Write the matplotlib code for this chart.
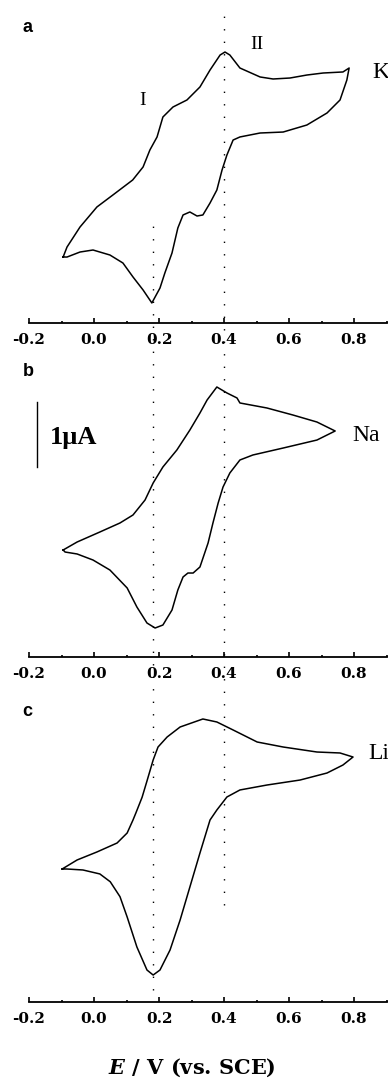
import matplotlib
matplotlib.use("Agg")
import matplotlib.pyplot as plt
from matplotlib.ticker import MultipleLocator, FixedLocator

plt.rcParams['mathtext.fontset'] = 'dejavuserif'

# ---------------- data (E in V vs. SCE, current in µA, arbitrary offset) -------------
# Panel a : K+
E_K = [-0.095, -0.083, -0.043, 0.009, 0.058, 0.119, 0.151, 0.172, 0.194, 0.212, 0.243,
       0.286, 0.326, 0.357, 0.388, 0.403, 0.418, 0.449, 0.511, 0.551, 0.603, 0.655,
       0.705, 0.766, 0.785,
       0.778, 0.757, 0.717, 0.655, 0.582, 0.511, 0.449, 0.428, 0.409, 0.394, 0.378,
       0.357, 0.335, 0.317, 0.295, 0.274, 0.258, 0.240, 0.218, 0.203, 0.188, 0.178,
       0.151, 0.120, 0.089, 0.049, -0.003, -0.043, -0.083, -0.095]
I_K = [1.015, 1.169, 1.477, 1.785, 1.969, 2.200, 2.400, 2.662, 2.862, 3.169, 3.323,
       3.431, 3.631, 3.892, 4.123, 4.169, 4.123, 3.923, 3.785, 3.754, 3.769, 3.815,
       3.846, 3.862, 3.923,
       3.738, 3.431, 3.231, 3.046, 2.938, 2.923, 2.862, 2.815, 2.585, 2.354, 2.046,
       1.846, 1.662, 1.646, 1.708, 1.662, 1.462, 1.077, 0.769, 0.538, 0.400, 0.308,
       0.508, 0.708, 0.923, 1.046, 1.123, 1.092, 1.015, 1.015]

# Panel b : Na+
E_Na = [-0.095, -0.052, 0.018, 0.080, 0.120, 0.157, 0.182, 0.212, 0.255, 0.295, 0.326,
        0.348, 0.378, 0.409, 0.440, 0.449, 0.532, 0.612, 0.686, 0.742,
        0.686, 0.582, 0.489, 0.449, 0.418, 0.397, 0.382, 0.366, 0.351, 0.326, 0.305,
        0.289, 0.274, 0.258, 0.240, 0.212, 0.188, 0.163, 0.132, 0.102, 0.049, -0.003,
        -0.052, -0.089, -0.095]
I_Na = [1.646, 1.769, 1.923, 2.062, 2.185, 2.415, 2.677, 2.923, 3.185, 3.492, 3.754,
        3.954, 4.154, 4.062, 3.985, 3.908, 3.831, 3.723, 3.615, 3.477,
        3.338, 3.215, 3.108, 3.031, 2.831, 2.615, 2.369, 2.062, 1.754, 1.385, 1.292,
        1.292, 1.231, 1.031, 0.723, 0.492, 0.446, 0.523, 0.769, 1.062, 1.338, 1.492,
        1.585, 1.615, 1.646]

# Panel c : Li+
E_Li = [-0.098, -0.052, 0.009, 0.071, 0.102, 0.120, 0.129, 0.148, 0.163, 0.182, 0.197,
        0.225, 0.265, 0.335, 0.378, 0.428, 0.502, 0.582, 0.686, 0.757, 0.797,
        0.766, 0.717, 0.634, 0.532, 0.449, 0.409, 0.378, 0.357, 0.326, 0.295, 0.265,
        0.234, 0.203, 0.182, 0.163, 0.132, 0.102, 0.080, 0.050, 0.018, -0.034, -0.083,
        -0.098]
I_Li = [2.046, 2.185, 2.308, 2.446, 2.600, 2.800, 2.910, 3.150, 3.400, 3.723, 3.923,
        4.077, 4.231, 4.354, 4.308, 4.185, 4.000, 3.923, 3.846, 3.831, 3.769,
        3.646, 3.523, 3.415, 3.338, 3.262, 3.154, 2.954, 2.800, 2.292, 1.769, 1.262,
        0.800, 0.492, 0.415, 0.492, 0.846, 1.308, 1.620, 1.850, 1.970, 2.031, 2.046,
        2.046]

panel_letters = ['a', 'b', 'c']
cation_labels = ['K', 'Na', 'Li']
peak_labels = ['I', 'II']
ref_potentials = [0.18, 0.40]          # dotted guide lines (V)
tick_values = [-0.2, 0.0, 0.2, 0.4, 0.6, 0.8]
tick_labels = ['-0.2', '0.0', '0.2', '0.4', '0.6', '0.8']
scale_bar_uA = 1.0
x_label = r'$\mathbfit{E}$ / V (vs. SCE)'

# ---------------- figure -------------------------------------------------------------
W, H = 388, 1079
fig = plt.figure(figsize=(W / 100, H / 100), dpi=100)

left_px = 29
px_per_V = 325.0
xlim = (-0.2, 0.9)
ax_w = (xlim[1] - xlim[0]) * px_per_V
px_per_uA = 65.0
ax_h = 300
spine_px = [323, 657, 1002]

serif = ['Liberation Serif', 'DejaVu Serif']
tick_font = dict(family='DejaVu Serif', weight='bold', size=11)

axes = []
for sp in spine_px:
    ax = fig.add_axes([left_px / W, (H - sp) / H, ax_w / W, ax_h / H])
    ax.set_xlim(*xlim)
    ax.set_ylim(0, ax_h / px_per_uA)
    for s in ['top', 'left', 'right']:
        ax.spines[s].set_visible(False)
    ax.spines['bottom'].set_linewidth(1.3)
    ax.yaxis.set_visible(False)
    ax.xaxis.set_major_locator(FixedLocator(tick_values))
    ax.set_xticklabels(tick_labels, fontdict=tick_font)
    ax.xaxis.set_minor_locator(MultipleLocator(0.1))
    ax.tick_params(axis='x', which='major', direction='in', length=3.5, width=1.2, pad=7)
    ax.tick_params(axis='x', which='minor', direction='in', length=1.8, width=1.2)
    ax.patch.set_visible(False)
    axes.append(ax)

ax1, ax2, ax3 = axes
for ax, E, I in zip(axes, [E_K, E_Na, E_Li], [I_K, I_Na, I_Li]):
    ax.plot(E, I, color='black', lw=1.1, clip_on=False, solid_joinstyle='round')

# peak labels (panel a)
ax1.text(0.151, 3.43, peak_labels[0], family=serif, fontsize=14, ha='center', va='center')
ax1.text(0.502, 4.28, peak_labels[1], family=serif, fontsize=14, ha='center', va='center')

# cation labels
ax1.text(0.858, 3.85, cation_labels[0], family=serif, fontsize=17, ha='left', va='center')
ax2.text(0.794, 3.40, cation_labels[1], family=serif, fontsize=17, ha='left', va='center')
ax3.text(0.843, 3.83, cation_labels[2], family=serif, fontsize=17, ha='left', va='center')

# scale bar
ax2.plot([-0.175, -0.175], [2.92, 2.92 + scale_bar_uA], color='black', lw=1.0, clip_on=False)
ax2.text(-0.137, 3.37, '1µA', family=serif, fontweight='bold', fontsize=19,
         ha='left', va='center')

# panel letters
for letter, (px, py) in zip(panel_letters, [(28, 28), (28, 371), (27, 712)]):
    fig.text(px / W, 1 - py / H, letter, family=['Liberation Sans', 'DejaVu Sans'],
             fontweight='bold', fontsize=13, ha='center', va='center')

# x label
fig.text(192 / W, 1 - 1068 / H, x_label, family='DejaVu Serif', fontweight='bold',
         fontsize=15, ha='center', va='center')

# dotted guide lines spanning panels
ov = fig.add_axes([left_px / W, 0, ax_w / W, 1])
ov.set_xlim(*xlim)
ov.set_ylim(0, 1)
ov.axis('off')
spans = [((H - 990) / H, (H - 215) / H), ((H - 905) / H, (H - 10) / H)]
for xv, (y0, y1) in zip(ref_potentials, spans):
    ov.axvline(xv, ymin=y0, ymax=y1, color='black', lw=1.0, linestyle=(0, (1, 8)))

fig.savefig('out.png', dpi=100)
